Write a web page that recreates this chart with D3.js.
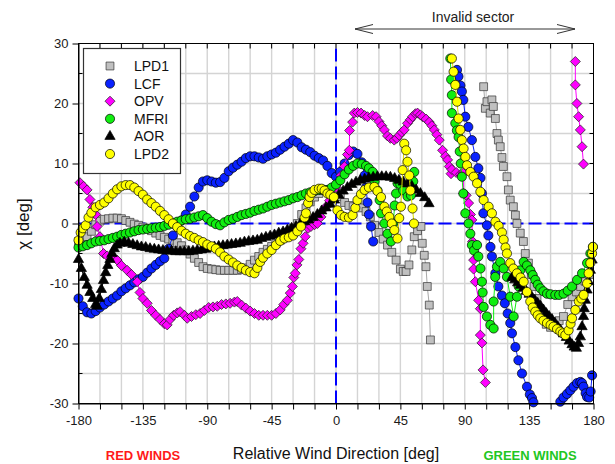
<!DOCTYPE html>
<html>
<head>
<meta charset="utf-8">
<script src="https://cdn.jsdelivr.net/npm/d3@7"></script>
<style>
  body { margin: 0; background: #fff; }
  svg { display: block; font-family: Arial, "Liberation Sans", sans-serif; }
</style>
</head>
<body>
<svg></svg>
<script>
// tick labels
const xTickLabels = [-180, -135, -90, -45, 0, 45, 90, 135, 180];
const yTickLabels = [-30, -20, -10, 0, 10, 20, 30];

// series: [relative wind direction (deg), chi (deg)], null = gap in data
const lpd1 = [
  [-180,-3],[-177,-2.7],[-174,-2.2],[-171,-1.3],[-168,-0.2],[-165,0.4],[-162,0.7],[-159,0.8],[-156,0.9],[-153,0.9],
  [-150,0.8],[-147,0.5],[-144,0.2],[-141,-0.1],[-138,-0.3],[-135,-0.6],[-132,-0.9],[-129,-1.2],[-126,-1.6],[-123,-2],
  [-120,-2.3],[-117,-2.6],[-114,-2.8],[-111,-3.2],[-108,-3.7],[-105,-4.4],[-102,-5.1],[-99,-5.8],[-96,-6.5],[-93,-7.2],
  [-90,-7.5],[-87,-7.6],[-84,-7.7],[-81,-7.8],[-78,-7.8],[-75,-7.8],[-72,-7.8],[-69,-7.8],[-66,-7.7],[-63,-7.4],
  [-60,-6.8],[-57,-6.1],[-54,-5.5],[-51,-4.8],[-48,-4.3],[-45,-3.8],[-42,-3.3],[-39,-2.8],[-36,-2.2],[-33,-1.6],
  [-30,-0.8],[-27,0],[-24,1.5],[-21,2.6],[-18,3.6],[-15,4.4],[-12,5],[-9,5.5],[-6,5.6],[-3,5.6],
  [0,5.2],[3,4.5],[6,3.5],[9,3],[12,2.8],[15,2.7],[18,2.6],[21,2],[24,1.1],[27,-0.3],
  [30,-1.5],[33,-2.6],[36,-3.6],[39,-4.8],[42,-6.1],[45,-7.6],[47,-8],[49,-8],[51,-6.9],[53,-4.4],
  [54.7,-2.2],[57,-1.2],[59.4,-0.5],[60.3,-3.3],[61.7,-5.3],[62.9,-7.2],[63.8,-10.5],[65.2,-13.6],[66,-19.4],
  null,
  [103.2,22.8],[104.4,19.2],[105.5,20.3],[107.8,18.4],[109,20.6],[110,19.5],[111.4,17.5],[112.5,15],[113.5,13.9],[114.8,12.8],
  [116,11],[117,9.5],[119.5,7.8],[120.5,5.6],[121.8,3.9],[124,2.8],[125.4,1.4],[126.5,0],[128.8,-1.6],[131,-3],
  [132.3,-5],[134.5,-6.6],[136.5,-8.5],[138.5,-10.5],[140.5,-12.5],[142.5,-14.3],[144.5,-15.8],[147,-16.8],[150,-17.3],[153,-17],
  [156,-16.2],[159,-15.5],[162,-13.5],[165,-12.2],[168,-11.4],[171,-10.5],[174,-9.6],[177,-8.5]
];

const lcf = [
  [-180,-12.5],[-177,-13.8],[-174,-14.8],[-171,-15],[-168,-14.6],[-165,-14],[-162,-13.5],[-159,-13],[-156,-12.5],[-153,-12],
  [-150,-11.3],[-147,-10.8],[-144,-10.3],[-141,-9.8],[-138,-9.3],[-135,-8.9],[-132,-8.2],[-129,-7.5],[-126,-6.9],[-123,-6.3],
  [-120,-5.8],[-117,-4.2],[-114,-2],[-111,-0.5],[-108,0.5],[-105,1.5],[-102,2.8],[-99,4.5],[-96,6],[-93,7],
  [-90,7.2],[-87,7],[-84,6.8],[-81,6.9],[-78,7.6],[-75,8.7],[-72,9.3],[-69,9.8],[-66,10.3],[-63,10.9],
  [-60,11.2],[-57,11.2],[-54,11],[-51,10.8],[-48,11.2],[-45,11.5],[-42,11.8],[-39,12.3],[-36,12.8],[-33,13.3],
  [-30,13.9],[-27,13.5],[-24,12.7],[-21,12.3],[-18,11.9],[-15,11.3],[-12,10.9],[-9,10.5],[-6,9.6],[-3,8.4],
  [0,7.8],[3,8.6],[6,10],[9,11.4],[12,12],[15,11.6],[18,10.2],[20,8],[21,6],[22,3.5],
  [23,1.5],[24.5,-0.5],[26,-3],
  null,
  [84.6,25.6],[85.6,24.5],[87,23],[88,22],[89,20.6],[90.4,17.8],[92.5,16.1],[95,13.9],[97.4,11.1],[99.5,9.2],
  [101,7.6],[102,5],[103,1.7],[105.5,-0.3],[106.5,-2],[108,-3.9],[109,-5.5],[111.4,-8.3],[113.5,-10.5],[116,-12],
  [118,-13.3],[120,-15],[121.8,-16.6],[123,-18.3],[125.4,-20.6],[127.5,-22.8],[130,-25],[133.5,-27.2],[135.5,-28.5],[137,-29.1],
  [138,-29.8],
  null,
  [156.8,-29.7],[159,-29],[161.5,-28.4],[163.8,-27.8],[166,-27.2],[168.5,-26.6],[170.8,-26.4],[172,-26.6],[173,-27.2],[174.5,-28.3],
  [175.5,-28.9],[177,-29],[178,-28],[179,-25.3]
];

const opv = [
  [-179,6.8],[-176.5,6.2],[-174,5.6],[-172,4],[-170,2.7],[-168,1.5],[-167,-0.5],[-165,-2.2],[-162.5,-5],[-160,-5.4],
  [-157,-5.6],[-153,-6.1],[-150,-7],[-146,-7.8],[-143,-8.5],[-139,-9.7],[-137,-11.5],[-135,-12.5],[-132,-13.3],[-129,-14.5],
  [-126,-15.3],[-123,-16],[-120,-16.7],[-118,-16.9],[-116,-16],[-113.5,-15.3],[-111,-14.9],[-109,-14.7],[-106,-15.3],[-104,-15.8],
  [-101,-15.5],[-98,-15.2],[-95,-15],[-92,-14.5],[-89,-14],[-86,-13.9],[-83,-13.8],[-80,-13.5],[-77,-13.4],[-74,-13.3],
  [-71,-13.1],[-69,-13],[-66,-13.6],[-63,-14.1],[-60,-14.6],[-57,-15],[-54,-15.3],[-51,-15.3],[-48,-15.3],[-45,-15.3],
  [-42,-15],[-39,-14.4],[-36.5,-13.5],[-34,-12.8],[-32,-11.6],[-30.5,-10.5],[-29.5,-9],[-28.5,-8.3],[-27.3,-6.9],[-26,-6],
  [-24.5,-4.2],[-23,-3.3],[-21.5,-2.2],[-19.5,-0.8],[-17.5,-0.5],[-15,-0.2],[-13,0],[-10.5,1.1],[-7,2.8],[-4.5,3.8],
  [-2.6,4.4],[0,6],[1.1,6.7],[3.5,8],[5.8,9.5],[8,11.5],[9.3,12.2],[9.5,15.5],[11.6,16.9],[12.8,18.4],
  [15,18.5],[17.5,18.4],[20,18],[22,17.8],[25.6,18],[28,17.8],[30,17],[32,16.3],[33.8,15.6],[36,14.6],
  [38,14.2],[40.7,13.9],[42.5,14.2],[44.2,14.7],[46,15.2],[47.7,15.6],[50,16.7],[52,17.3],[53.5,17.8],[55.5,18.3],
  [57,18.4],[59,18.1],[60.5,17.8],[63,17.4],[65.2,16.9],[67,16.3],[68.7,15.6],[70.5,14.8],[72.2,13.9],[74.5,12.2],
  [76.5,11.2],[78,10.6],[79.2,9.5],[80.4,8.3],[81,9],[84,8.5],[87,8.2],[89,8.4],[89.2,5],[91,4.7],
  [92.7,3.4],[94,1.5],[95,0.6],[95.5,-3],[96.2,-6.1],[96.2,-7.6],[97.4,-9.7],[99.7,-12.8],[100.9,-14.2],[100.9,-18.6],
  [102,-19.9],[102.8,-24.4],[104.4,-26.5],
  null,
  [167.3,27],[167.3,23.1],[168.4,20],[169.6,17.8],[170.8,15.6],[172,12.8],[173,9.9]
];

const mfri = [
  [-180,-4],[-177,-3.8],[-174,-3.6],[-171,-3.3],[-168,-3],[-165,-2.9],[-162,-2.8],[-159,-2.6],[-156,-2.4],[-153,-2.2],
  [-150,-1.9],[-147,-1.7],[-144,-1.5],[-141,-1.3],[-138,-1.1],[-135,-1],[-132,-0.9],[-129,-0.8],[-126,-0.7],[-123,-0.6],
  [-120,-0.4],[-117,-0.2],[-114,0],[-111,0.3],[-108,0.5],[-105,0.7],[-102,0.8],[-99,1],[-96,1.2],[-93,1.4],
  [-90,0.9],[-87,0.3],[-84,-0.1],[-81,-0.3],[-78,0.2],[-75,0.6],[-72,0.8],[-69,1.1],[-66,1.4],[-63,1.6],
  [-60,1.8],[-57,2.1],[-54,2.3],[-51,2.5],[-48,2.8],[-45,3.1],[-42,3.3],[-39,3.5],[-36,3.7],[-33,3.9],
  [-30,4.2],[-27,4.4],[-24,4.7],[-21,5],[-18,5.2],[-15,5.4],[-12,5.6],[-9,5.6],[-6,5.6],[-3,6],
  [0,6.5],[3,7.2],[6,8.2],[9,9],[12,9.6],[15,10],[18,9.9],[21,9.6],[23,9.2],[25.6,8.6],
  [27,7],[29,5.5],[30.5,3.9],[31.5,1.7],[33.8,0],[36,-1.7],[38.4,-3],[40,0],[41,3],[42,5],
  [43,6.7],[45,6.5],[47,5.5],[50,4.5],[52.4,4.7],[54,7],[54.7,8.6],
  null,
  [79.9,27.5],[80.5,24],[81,21.4],[81,18.4],[83.4,16.7],[84.5,15.5],[85.7,14.4],[86.5,12],[87.2,10],[88,7.8],
  [89,5],[90.4,1.7],[92.7,0],[93.9,-1.7],[95,-3.6],[96.5,-4.5],[98.6,-3.6],[99.5,-5.5],[101,-7.5],[102,-9.7],
  [102.5,-11.5],[103.2,-13.9],[105.5,-15.5],[107.9,-16.9],[110.2,-17.5],[110.2,-13],[111.3,-8.9],[112.5,-7.2],[114.8,-6.4],[117.2,-7.5],
  [119.5,-8.9],[121.8,-12.2],[124.2,-15.5],[126.5,-12.2],[127.7,-10.5],[128.8,-7.8],[131.2,-6.4],[133.5,-7],[135.8,-7.8],[137.5,-8.6],
  [139.3,-9.4],[141,-10.2],[142.8,-10.8],[145,-11.3],[147.5,-11.7],[150,-11.8],[153.3,-11.9],[156,-11.9],[159.1,-11.7],[162,-11.2],
  [165,-10.5],[168.5,-9.4],[172,-8.3],[175.5,-6.6],[177.8,-5],[179.6,-3.9]
];

const aor = [
  [-180,-6],[-178,-7.5],[-176,-9],[-174,-10.3],[-172,-11.5],[-170,-12.5],[-168,-13.5],[-167,-13.8],[-165.5,-12.5],[-164,-11],
  [-162.5,-9.5],[-161,-8.2],[-159.5,-7],[-158,-6],[-156.5,-5],[-155,-4.2],[-153,-3.6],[-151,-3.3],[-148,-3.1],[-145,-3.3],
  [-142,-3.5],[-139,-3.7],[-136,-3.9],[-133,-4],[-130,-4.2],[-127,-4.3],[-124,-4.4],[-121,-4.5],[-118,-4.6],[-115,-4.6],
  [-112,-4.7],[-109,-4.7],[-106,-4.7],[-103,-4.7],[-100,-4.6],[-97,-4.5],[-94,-4.4],[-91,-4.3],[-88,-4.1],[-85,-3.9],
  [-82,-3.8],[-79,-3.7],[-76,-3.6],[-73,-3.5],[-70,-3.4],[-67,-3.3],[-64,-3.1],[-61,-3],[-58,-2.9],[-55,-2.8],
  [-52,-2.5],[-49,-2.3],[-46,-2.1],[-43,-1.9],[-40,-1.6],[-37,-1.4],[-34,-1.1],[-31,-0.8],[-28,-0.5],[-25,-0.1],
  [-22,0.3],[-19,0.6],[-16,1],[-13,1.5],[-10,2.1],[-7,2.6],[-4,3.2],[-1,3.9],[2,4.7],[5,5.4],
  [8,6],[11,6.5],[14,6.9],[17,7.2],[20,7.4],[23,7.6],[26,7.7],[29,7.8],[32,7.8],[35,7.8],
  [38,7.7],[41,7.5],[44,7.2],[47,6.9],[50,6.6],[53,6.2],[56,5.6],[59,5],[62,4.3],[65,3.3],
  null,
  [123,-9],[125,-9.4],[127,-9.9],[129,-10.3],[131,-10.8],[133,-11.3],[135,-11.8],[137,-12.3],[139,-12.8],[141,-13.3],
  [143,-13.8],[145,-14.4],[147,-15],[149,-15.5],[151,-16],[153,-16.6],[155,-17.2],[157,-17.8],[159,-18.4],[161,-19],
  [163,-19.6],[165,-20.2],[166.5,-20.6],[168,-20.8],[169.5,-20],[170.8,-18.9],[172,-17.2],[173,-15.5],[173.5,-14.2],[174.3,-12.8],
  [175.5,-11.1],[176.6,-9.7],[177.8,-7.8],[179,-6.1]
];

const lpd2 = [
  [-180,-2.8],[-178.5,-1.5],[-177,-0.8],[-175,-0.3],[-173,1],[-171,1.8],[-168,2.7],[-165,3.1],[-162,3.5],[-159,4.2],
  [-156,5],[-153,5.7],[-150,6.2],[-147,6.4],[-144,6.4],[-141,6],[-138,5.4],[-135,4.8],[-132,4],[-129,3.4],
  [-126,2.8],[-123,2.1],[-120,1.4],[-117,0.7],[-114,0],[-111,-0.6],[-108,-1.2],[-105,-1.7],[-102,-2.1],[-99,-2.4],
  [-96,-2.8],[-93,-3.1],[-90,-3.5],[-87,-3.8],[-84,-4.2],[-81,-4.8],[-78,-5.5],[-75,-6],[-72,-6.5],[-69,-7],
  [-66,-7.4],[-63,-7.8],[-60,-8.1],[-57,-8.3],[-55,-7.4],[-53,-6.4],[-51,-5.7],[-48,-5],[-45,-4.4],[-42,-3.6],
  [-39,-2.9],[-36,-2.5],[-33,-2.3],[-30,-2],[-27,-1.3],[-24.5,-0.5],[-22,1],[-21,1.7],[-19.5,3.4],[-18.5,4.4],
  [-17,5.1],[-15,5.6],[-12,5.8],[-10,5.8],[-8,5.5],[-6,5],[-4,4.8],[-1.5,4.4],[1,2.2],[3.5,1.4],
  [6,1.1],[9,1],[11.6,1.4],[13.5,2.6],[15,3.9],[17.5,4.9],[20,5.6],[23,6],[26.8,6.1],[29,5.4],
  [31.5,4.4],[33.8,2.8],[35.5,2],[37.3,1.1],[39,0],[40.8,-1.1],[43,-2.5],[44.2,0.9],[45.4,2.8],[46.6,8.9],
  [47.7,13.3],[49,12.2],[50,10.3],[51.2,8],[52,5.5],[53.5,2.5],[54.5,0],
  null,
  [81,27.5],[82.2,25.3],[83.4,23.1],[84.6,20.3],[85.7,17.5],[86.9,15.6],[88,13.9],[89.2,12.5],[90.4,11.1],[91.6,9.7],
  [93.9,8.6],[96.2,7.8],[98.6,6.7],[100.9,5.3],[103.2,3.9],[106.7,2.8],[109,1.7],[111.4,0.3],[113.7,-0.4],[116,-1.5],
  [117.2,-2.7],[118.5,-4],[119.5,-5],[121.8,-6.6],[124,-7.5],[126.5,-8.3],[129,-9],[131.2,-9.7],[133.5,-11.4],[135.8,-13],
  [137.5,-14],[139.3,-14.7],[141,-15.3],[142.8,-15.8],[145,-16.2],[147.5,-16.6],[150,-16.9],[152,-17.2],[154.5,-17.6],[156.8,-18],
  [158.5,-18.3],[160.3,-18.6],[162.6,-17.8],[164,-16.7],[165,-15.8],[167.3,-14.4],[169.7,-13],[171.5,-12.5],[173.1,-11.9],[175.5,-10],
  [176.6,-8.3],[177.8,-6.6],[179,-5],[179.6,-3.9]
];

const svgWidth = 615, svgHeight = 464;

const svg = d3.select('svg')
  .attr('width', svgWidth)
  .attr('height', svgHeight);

const xScale = d3.scaleLinear().domain([-180, 180]).range([78.5, 593.5]);
const yScale = d3.scaleLinear().domain([-30, 30]).range([403.5, 43.5]);

// grid
svg.append('g').selectAll('line')
  .data(d3.range(-165, 180, 15))
  .enter().append('line')
  .attr('x1', d => xScale(d)).attr('x2', d => xScale(d))
  .attr('y1', yScale(-30)).attr('y2', yScale(30))
  .attr('stroke', '#d4d4d4').attr('stroke-width', 1.4);

svg.append('g').selectAll('line')
  .data(d3.range(-25, 30, 5))
  .enter().append('line')
  .attr('y1', d => yScale(d)).attr('y2', d => yScale(d))
  .attr('x1', xScale(-180)).attr('x2', xScale(180))
  .attr('stroke', '#d4d4d4').attr('stroke-width', 1.4);

// dashed zero lines
svg.append('line')
  .attr('x1', xScale(-180)).attr('x2', xScale(180))
  .attr('y1', yScale(0)).attr('y2', yScale(0))
  .attr('stroke', '#0000ff').attr('stroke-width', 2).attr('stroke-dasharray', '13,5');
svg.append('line')
  .attr('x1', xScale(0)).attr('x2', xScale(0))
  .attr('y1', yScale(-30)).attr('y2', yScale(30))
  .attr('stroke', '#0000ff').attr('stroke-width', 2).attr('stroke-dasharray', '13,5');

// series
const seriesList = [
  { name: 'LPD1', data: lpd1, shape: 'square', fill: '#c0c0c0', line: '#a8a8a8', stroke: '#333' },
  { name: 'LCF', data: lcf, shape: 'circle', fill: '#0a22ff', line: '#0a22ff', stroke: '#000' },
  { name: 'OPV', data: opv, shape: 'diamond', fill: '#ff00ff', line: '#ff00ff', stroke: '#222' },
  { name: 'MFRI', data: mfri, shape: 'circle', fill: '#10ee10', line: '#10ee10', stroke: '#000' },
  { name: 'AOR', data: aor, shape: 'triangle', fill: '#000', line: '#000', stroke: '#000' },
  { name: 'LPD2', data: lpd2, shape: 'circle', fill: '#ffff00', line: '#e0e000', stroke: '#000' }
];

const symbolPath = {
  circle: d3.symbol().type(d3.symbolCircle).size(66)(),
  square: d3.symbol().type(d3.symbolSquare).size(62)(),
  diamond: d3.symbol().type(d3.symbolSquare).size(50)(),
  triangle: d3.symbol().type(d3.symbolTriangle).size(46)()
};
const symbolRotate = { circle: 0, square: 0, diamond: 45, triangle: 0 };

const line = d3.line()
  .defined(d => d !== null)
  .x(d => xScale(d[0]))
  .y(d => yScale(d[1]));

seriesList.forEach(s => {
  const g = svg.append('g');
  g.append('path')
    .datum(s.data)
    .attr('d', line)
    .attr('fill', 'none')
    .attr('stroke', s.line)
    .attr('stroke-width', 1);
  g.selectAll('path.mk')
    .data(s.data.filter(d => d !== null))
    .enter().append('path')
    .attr('class', 'mk')
    .attr('d', symbolPath[s.shape])
    .attr('transform', d => `translate(${xScale(d[0])},${yScale(d[1])}) rotate(${symbolRotate[s.shape]})`)
    .attr('fill', s.fill)
    .attr('stroke', s.stroke)
    .attr('stroke-width', 0.7);
});

// frame
svg.append('rect')
  .attr('x', xScale(-180)).attr('y', yScale(30))
  .attr('width', xScale(180) - xScale(-180)).attr('height', yScale(-30) - yScale(30))
  .attr('fill', 'none').attr('stroke', '#000').attr('stroke-width', 1);

// axes
const xAxis = d3.axisBottom(xScale)
  .tickValues(d3.range(-180, 181, 15))
  .tickSize(6).tickSizeOuter(0).tickPadding(6)
  .tickFormat(d => xTickLabels.includes(d) ? String(d) : '');
svg.append('g')
  .attr('transform', `translate(0,${yScale(-30)})`)
  .call(xAxis);

const yAxis = d3.axisLeft(yScale)
  .tickValues(yTickLabels)
  .tickSize(6).tickSizeOuter(0).tickPadding(4)
  .tickFormat(d => String(d));
svg.append('g')
  .attr('transform', `translate(${xScale(-180)},0)`)
  .call(yAxis);

svg.selectAll('.tick text').attr('font-size', 13).attr('fill', '#1a1a1a')
  .attr('font-family', 'Arial, "Liberation Sans", sans-serif');
svg.selectAll('.domain, .tick line').attr('stroke', '#000');

// minor inner ticks
svg.append('g').selectAll('line')
  .data([-25, -15, -5, 5, 15, 25])
  .enter().append('line')
  .attr('x1', xScale(-180)).attr('x2', xScale(-180) + 4)
  .attr('y1', d => yScale(d)).attr('y2', d => yScale(d))
  .attr('stroke', '#000');
svg.append('g').selectAll('line')
  .data(d3.range(-25, 30, 5))
  .enter().append('line')
  .attr('x1', xScale(180)).attr('x2', xScale(180) - 4)
  .attr('y1', d => yScale(d)).attr('y2', d => yScale(d))
  .attr('stroke', '#000');
svg.append('g').selectAll('line')
  .data(d3.range(-165, 180, 15))
  .enter().append('line')
  .attr('x1', d => xScale(d)).attr('x2', d => xScale(d))
  .attr('y1', yScale(30)).attr('y2', yScale(30) + 5)
  .attr('stroke', '#000');

// axis titles
svg.append('text')
  .attr('x', 336).attr('y', 459)
  .attr('text-anchor', 'middle')
  .attr('font-size', 16).attr('fill', '#111')
  .text('Relative Wind Direction [deg]');

svg.append('text')
  .attr('transform', 'translate(29,224) rotate(-90)')
  .attr('text-anchor', 'middle')
  .attr('font-size', 17).attr('fill', '#111')
  .text('χ [deg]');

svg.append('text')
  .attr('x', 143).attr('y', 460)
  .attr('text-anchor', 'middle')
  .attr('font-size', 13).attr('font-weight', 'bold').attr('fill', '#ff1a1a')
  .text('RED WINDS');

svg.append('text')
  .attr('x', 530).attr('y', 460)
  .attr('text-anchor', 'middle')
  .attr('font-size', 13).attr('font-weight', 'bold').attr('fill', '#22c622')
  .text('GREEN WINDS');

// invalid sector annotation
svg.append('text')
  .attr('x', 473).attr('y', 22)
  .attr('text-anchor', 'middle')
  .attr('font-size', 14).attr('fill', '#222')
  .text('Invalid sector');
svg.append('path')
  .attr('d', 'M355,29 L575,29 M373,24.5 L355,29 L373,33.5 M557,24.5 L575,29 L557,33.5')
  .attr('fill', 'none').attr('stroke', '#333').attr('stroke-width', 1);

// legend
const legend = svg.append('g');
legend.append('rect')
  .attr('x', 83.5).attr('y', 48.5).attr('width', 97).attr('height', 125)
  .attr('fill', '#fff').attr('stroke', '#333').attr('stroke-width', 1.2);

const legendItems = legend.selectAll('g.item')
  .data(seriesList)
  .enter().append('g')
  .attr('class', 'item')
  .attr('transform', (d, i) => `translate(0,${66 + i * 17.6})`);

legendItems.append('path')
  .attr('d', d => symbolPath[d.shape])
  .attr('transform', d => `translate(110,0) rotate(${symbolRotate[d.shape]})`)
  .attr('fill', d => d.fill)
  .attr('stroke', d => d.stroke)
  .attr('stroke-width', 0.7);

legendItems.append('text')
  .attr('x', 134).attr('y', 5)
  .attr('font-size', 14).attr('fill', '#111')
  .text(d => d.name);
</script>
</body>
</html>
